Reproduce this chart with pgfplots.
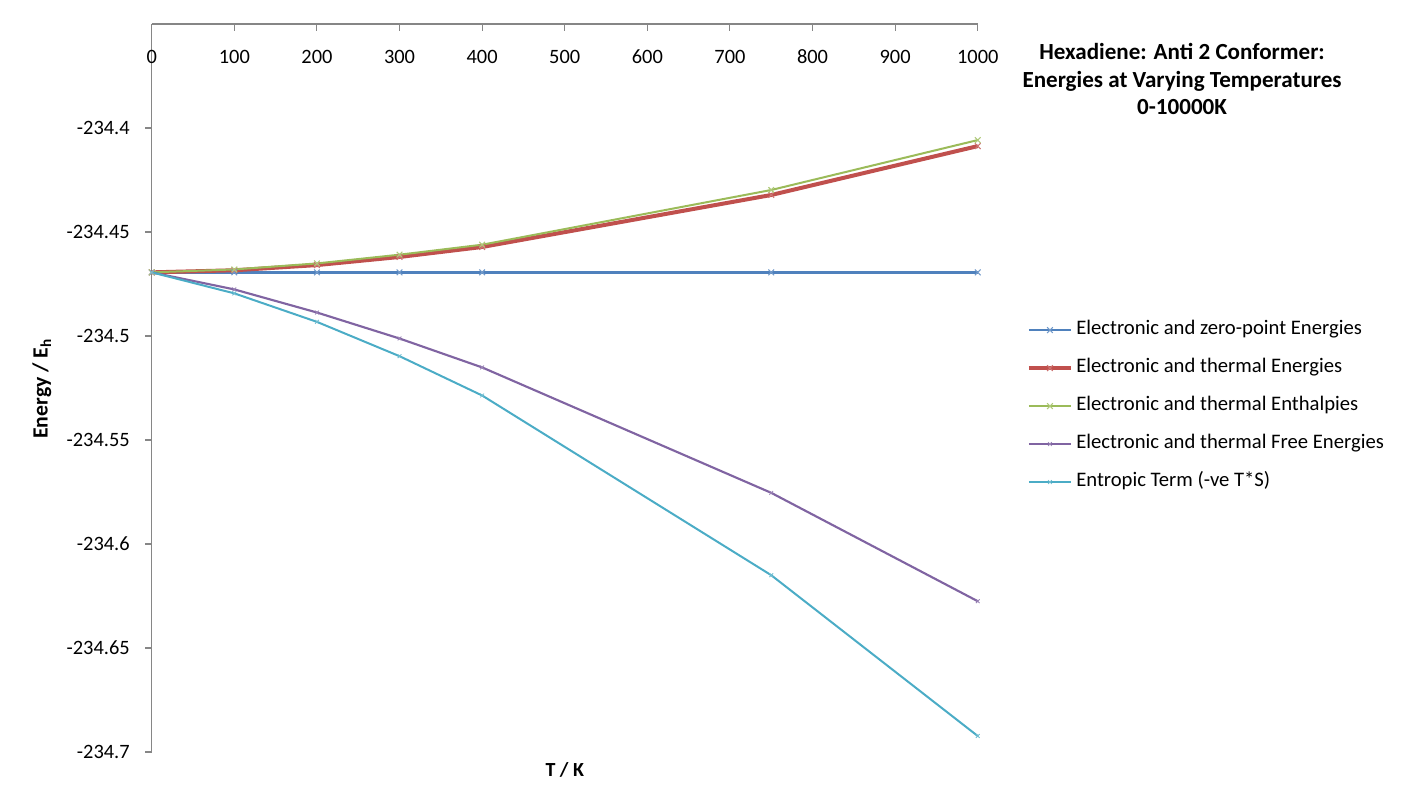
\documentclass[border=0pt]{standalone}
\usepackage{pgfplots}
\pgfplotsset{compat=1.18}
\usepackage{fontspec}
\setmainfont{Carlito}
\definecolor{cblue}{HTML}{4F81BD}
\definecolor{cred}{HTML}{C0504D}
\definecolor{cgreen}{HTML}{9BBB59}
\definecolor{cpurple}{HTML}{8064A2}
\definecolor{ccyan}{HTML}{4BACC6}
\definecolor{axgray}{HTML}{868686}
% shift energies by +234 Eh (string-wise, to keep full precision)
\makeatletter
\def\hxtrafo#1{\in@{Y}{#1}\ifin@\hxfloat#1\relax\else\hxshift#1\relax\fi}
\def\hxfloat#1Y#2.34#3e#4]#5\relax{\def\pgfmathresult{-0.#3}}
\def\hxshift#1.#2\relax{\def\pgfmathresult{-0.#2}}
\makeatother
\begin{document}
\begin{tikzpicture}
\useasboundingbox (0,0) rectangle (1056pt,-606pt);
\begin{axis}[
  at={(113.8pt,-18pt)}, anchor=north west,
  scale only axis, width=619.5pt, height=546pt,
  xmin=0, xmax=1000,
  ymin=-234.7, ymax=-234.35,
  y coord trafo/.code={\hxtrafo{#1}},
  axis x line=top, axis y line=left,
  axis line style={axgray, line width=0.8pt, -},
  every tick/.style={axgray, line width=0.8pt},
  xtick={0,100,200,300,400,500,600,700,800,900,1000},
  ytick={-234.7,-234.65,-234.6,-234.55,-234.5,-234.45,-234.4},
  yticklabels={-234.7,-234.65,-234.6,-234.55,-234.5,-234.45,-234.4},
  xtick align=inside, ytick align=outside,
  major tick length=5pt,
  tick label style={font=\fontsize{15.3}{18}\selectfont},
  /pgf/number format/assume math mode=true,
  /pgf/number format/1000 sep={},
  xticklabel style={anchor=center, yshift=-24.75pt},
  yticklabel style={anchor=east, xshift=-8pt},
  xlabel={\bfseries T / K},
  xlabel style={at={(axis description cs:0.5,-0.0247)}, anchor=center, font=\fontsize{15}{18}\selectfont},
  ylabel={\bfseries Energy / E\textsubscript{h}},
  ylabel style={at={(axis description cs:-0.133,0.499)}, anchor=center, font=\fontsize{16.3}{18}\selectfont},
  title={Hexadiene: Anti 2 Conformer:\\Energies at Varying Temperatures\\0-10000K},
  title style={at={(axis description cs:1.2474,0.9135)}, anchor=center, align=center,
    font=\fontsize{17.3}{20.6}\selectfont\bfseries},
  legend style={at={(axis description cs:1.0544,0.4752)}, anchor=west, draw=none, fill=none,
    font=\fontsize{15.5}{18}\selectfont, row sep=13.5pt, column sep=2.5pt,
    nodes={text height=11pt, text depth=4pt, inner sep=0pt}},
  legend cell align=left,
  legend image code/.code={\draw[mark repeat=2,mark phase=2,#1] plot coordinates {(0pt,0pt)(15.75pt,0pt)(31.5pt,0pt)};},
  every axis plot/.append style={mark=x, mark size=2.6pt},
  clip=false,
]
\addplot[cblue, line width=2pt, mark size=3pt, mark options={line width=0.8pt, draw=cblue!80!white}] coordinates {
(0,-234.4694) (100,-234.4694) (200,-234.4694) (300,-234.4694) (400,-234.4694) (750,-234.4694) (1000,-234.4694)};
\addlegendentry{Electronic and zero-point Energies}
\addplot[cred, line width=3pt, mark size=3pt, mark options={line width=0.8pt, draw=cred!80!white}] coordinates {
(0,-234.4694) (100,-234.4684) (200,-234.4659) (300,-234.4620) (400,-234.4572) (750,-234.4322) (1000,-234.4087)};
\addlegendentry{Electronic and thermal Energies}
\addplot[cgreen, line width=1.5pt, mark size=3pt, mark options={line width=0.8pt, draw=cgreen!80!white}] coordinates {
(0,-234.4694) (100,-234.4680) (200,-234.4651) (300,-234.4609) (400,-234.4561) (750,-234.4298) (1000,-234.4058)};
\addlegendentry{Electronic and thermal Enthalpies}
\addplot[cpurple, line width=1.6pt, mark size=2pt, mark options={line width=0.6pt, draw=cpurple!80!white}] coordinates {
(0,-234.4694) (100,-234.4776) (200,-234.4887) (300,-234.5012) (400,-234.5151) (750,-234.5754) (1000,-234.6275)};
\addlegendentry{Electronic and thermal Free Energies}
\addplot[ccyan, line width=1.5pt, mark size=2pt, mark options={line width=0.6pt, draw=ccyan!80!white}] coordinates {
(0,-234.4694) (100,-234.4795) (200,-234.4932) (300,-234.5097) (400,-234.5286) (750,-234.6150) (1000,-234.6923)};
\addlegendentry{Entropic Term (-ve T*S)}
\end{axis}
\end{tikzpicture}
\end{document}
